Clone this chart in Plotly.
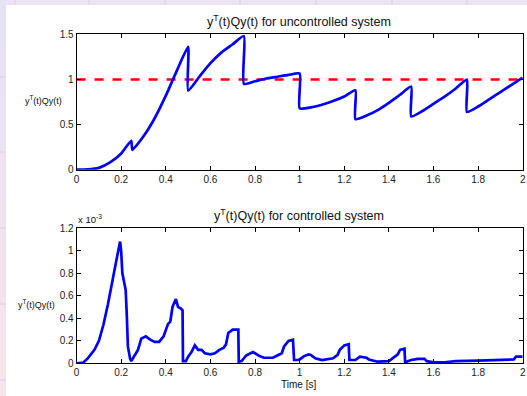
import plotly.graph_objects as go

# ---- data: uncontrolled system ----
t_unc = [0, 0.05, 0.1, 0.15, 0.2, 0.245, 0.25, 0.3, 0.35, 0.4, 0.45, 0.5,
         0.5, 0.55, 0.6, 0.65, 0.7, 0.75,
         0.75, 0.8, 0.85, 0.9, 0.95, 1.0,
         1.0, 1.05, 1.1, 1.15, 1.2, 1.25,
         1.25, 1.3, 1.35, 1.4, 1.45, 1.5,
         1.5, 1.55, 1.6, 1.65, 1.7, 1.75,
         1.75, 1.8, 1.85, 1.9, 1.95, 2.0]
y_unc = [0, 0.003, 0.02, 0.08, 0.18, 0.32, 0.22, 0.37, 0.57, 0.82, 1.1, 1.36,
         0.875, 1.03, 1.18, 1.3, 1.39, 1.48,
         0.95, 0.98, 1.01, 1.03, 1.05, 1.065,
         0.68, 0.69, 0.72, 0.76, 0.81, 0.88,
         0.56, 0.6, 0.66, 0.74, 0.83, 0.92,
         0.59, 0.65, 0.73, 0.81, 0.9, 1.0,
         0.64, 0.7, 0.78, 0.86, 0.94, 1.02]

ref_t = [0, 2]
ref_y = [1, 1]

# ---- data: controlled system (x 1e-3) ----
t_con = [0, 0.03, 0.05, 0.07, 0.08, 0.1, 0.12, 0.14, 0.16, 0.18, 0.195, 0.2, 0.205, 0.21, 0.22,
         0.225, 0.23, 0.24, 0.245, 0.26, 0.275, 0.29, 0.31, 0.33, 0.35, 0.37, 0.39, 0.41, 0.42, 0.43,
         0.445, 0.455, 0.465, 0.475, 0.477, 0.49, 0.5, 0.515, 0.53, 0.545, 0.56, 0.575, 0.6, 0.62,
         0.64, 0.66, 0.67, 0.68, 0.7, 0.725, 0.727, 0.74, 0.76, 0.78, 0.79, 0.8, 0.82, 0.84, 0.88,
         0.9, 0.92, 0.93, 0.95, 0.97, 0.975, 0.99, 1.0, 1.02, 1.04, 1.05, 1.07, 1.1, 1.15, 1.17,
         1.18, 1.2, 1.22, 1.223, 1.25, 1.27, 1.3, 1.31, 1.35, 1.4, 1.42, 1.44, 1.45, 1.47, 1.473,
         1.5, 1.53, 1.56, 1.57, 1.6, 1.65, 1.7, 1.8, 1.9, 1.96, 1.97, 2.0]
y_con = [0, 0.008, 0.044, 0.09, 0.12, 0.2, 0.34, 0.52, 0.71, 0.93, 1.08, 0.99, 0.8, 0.74, 0.65,
         0.43, 0.15, 0.04, 0.02, 0.07, 0.12, 0.22, 0.24, 0.21, 0.19, 0.19, 0.24, 0.35, 0.37, 0.5,
         0.57, 0.5, 0.49, 0.47, 0.02, 0.02, 0.06, 0.1, 0.16, 0.12, 0.12, 0.09, 0.08, 0.09,
         0.12, 0.14, 0.17, 0.27, 0.3, 0.3, 0.015, 0.02, 0.07, 0.09, 0.1, 0.09, 0.065, 0.05, 0.05,
         0.07, 0.09, 0.15, 0.2, 0.21, 0.03, 0.03, 0.035, 0.065, 0.08, 0.075, 0.045, 0.03, 0.045, 0.075,
         0.12, 0.16, 0.17, 0.03, 0.03, 0.06, 0.05, 0.035, 0.015, 0.02, 0.05, 0.08, 0.12, 0.13, 0.01,
         0.03, 0.04, 0.04, 0.02, 0.01, 0.01, 0.02, 0.025, 0.03, 0.035, 0.06, 0.06]

x_ticks = [0, 0.2, 0.4, 0.6, 0.8, 1, 1.2, 1.4, 1.6, 1.8, 2]
top_y_ticks = [0, 0.5, 1, 1.5]
bot_y_ticks = [0, 0.2, 0.4, 0.6, 0.8, 1, 1.2]

W, H = 527, 396
FONT = "Liberation Sans, Arial, sans-serif"

fig = go.Figure()
fig.add_trace(go.Scatter(x=ref_t, y=ref_y, mode="lines", xaxis="x", yaxis="y",
                         line=dict(color="#ff0000", width=2.5, dash="dash"), hoverinfo="skip"))
fig.add_trace(go.Scatter(x=t_unc, y=y_unc, mode="lines", xaxis="x", yaxis="y",
                         line=dict(color="#0000ff", width=2.7, shape="spline", smoothing=0.5)))
fig.add_trace(go.Scatter(x=t_con, y=y_con, mode="lines", xaxis="x2", yaxis="y2",
                         line=dict(color="#0000ff", width=2.7)))

def px_x(p):
    return p / W

def px_y(p):
    return 1 - p / H

axis_common = dict(showline=True, linecolor="#000000", linewidth=1, mirror="ticks",
                   ticks="inside", ticklen=4, tickcolor="#000000", showgrid=False,
                   zeroline=False, automargin=False,
                   tickfont=dict(family=FONT, size=10, color="#222222"))

xdom = [px_x(76.6), px_x(522.7)]
fig.update_layout(
    width=W, height=H,
    margin=dict(l=0, r=0, t=0, b=0, autoexpand=False),
    paper_bgcolor="#ece4f2",
    plot_bgcolor="#ffffff",
    showlegend=False,
    xaxis=dict(domain=xdom, range=[0, 2], tickvals=x_ticks, anchor="y", **axis_common),
    yaxis=dict(domain=[px_y(169.7), px_y(34.3)], range=[0, 1.5], tickvals=top_y_ticks,
               anchor="x", **axis_common),
    xaxis2=dict(domain=xdom, range=[0, 2], tickvals=x_ticks, anchor="y2", **axis_common),
    yaxis2=dict(domain=[px_y(363.4), px_y(228)], range=[0, 1.2], tickvals=bot_y_ticks,
                anchor="x2", **axis_common),
)

# background: white canvas with a lavender/pink strip at left and top
shapes = []
shapes.append(dict(type="rect", xref="paper", yref="paper", x0=px_x(6), x1=1, y0=0, y1=px_y(5),
                   fillcolor="#ffffff", line=dict(width=0), layer="below"))
n = 8
c0 = (0xe6, 0xe2, 0xf4)
c1 = (0xf6, 0xe4, 0xec)
for i in range(n):
    f = i / (n - 1)
    c = tuple(round(a + (b - a) * f) for a, b in zip(c0, c1))
    shapes.append(dict(type="rect", xref="paper", yref="paper", x0=0, x1=px_x(6),
                       y0=px_y(396 * (i + 1) / n), y1=px_y(396 * i / n),
                       fillcolor="rgb(%d,%d,%d)" % c, line=dict(width=0), layer="below"))
for yy in [77, 152, 228, 304, 380]:
    shapes.append(dict(type="line", xref="paper", yref="paper", x0=0, x1=px_x(6),
                       y0=px_y(yy), y1=px_y(yy), line=dict(color="#d8d0e4", width=1), layer="below"))
for xx in [15, 89, 165, 240, 316, 392, 467]:
    shapes.append(dict(type="line", xref="paper", yref="paper", x0=px_x(xx), x1=px_x(xx),
                       y0=px_y(5), y1=1, line=dict(color="#d8d0e4", width=1), layer="below"))
fig.update_layout(shapes=shapes)

annos = [
    dict(text="y<sup>T</sup>(t)Qy(t) for uncontrolled system", x=px_x(299), y=px_y(21),
         size=12.5, xanchor="center"),
    dict(text="y<sup>T</sup>(t)Qy(t) for controlled system", x=px_x(299), y=px_y(215),
         size=12.5, xanchor="center"),
    dict(text="y<sup>T</sup>(t)Qy(t)", x=px_x(43), y=px_y(100), size=9, xanchor="center"),
    dict(text="y<sup>T</sup>(t)Qy(t)", x=px_x(36), y=px_y(304), size=9, xanchor="center"),
    dict(text="x 10<sup>-3</sup>", x=px_x(76), y=px_y(219), size=9.5, xanchor="left"),
    dict(text="Time [s]", x=px_x(298), y=px_y(384), size=10, xanchor="center"),
]
for a in annos:
    fig.add_annotation(text=a["text"], x=a["x"], y=a["y"], xref="paper", yref="paper",
                       xanchor=a["xanchor"], yanchor="middle", showarrow=False,
                       font=dict(family=FONT, size=a["size"], color="#111111"))

fig.write_html("out.html", config={"displayModeBar": False},
               post_script="document.body.style.margin='0px';document.body.style.overflow='hidden';")
